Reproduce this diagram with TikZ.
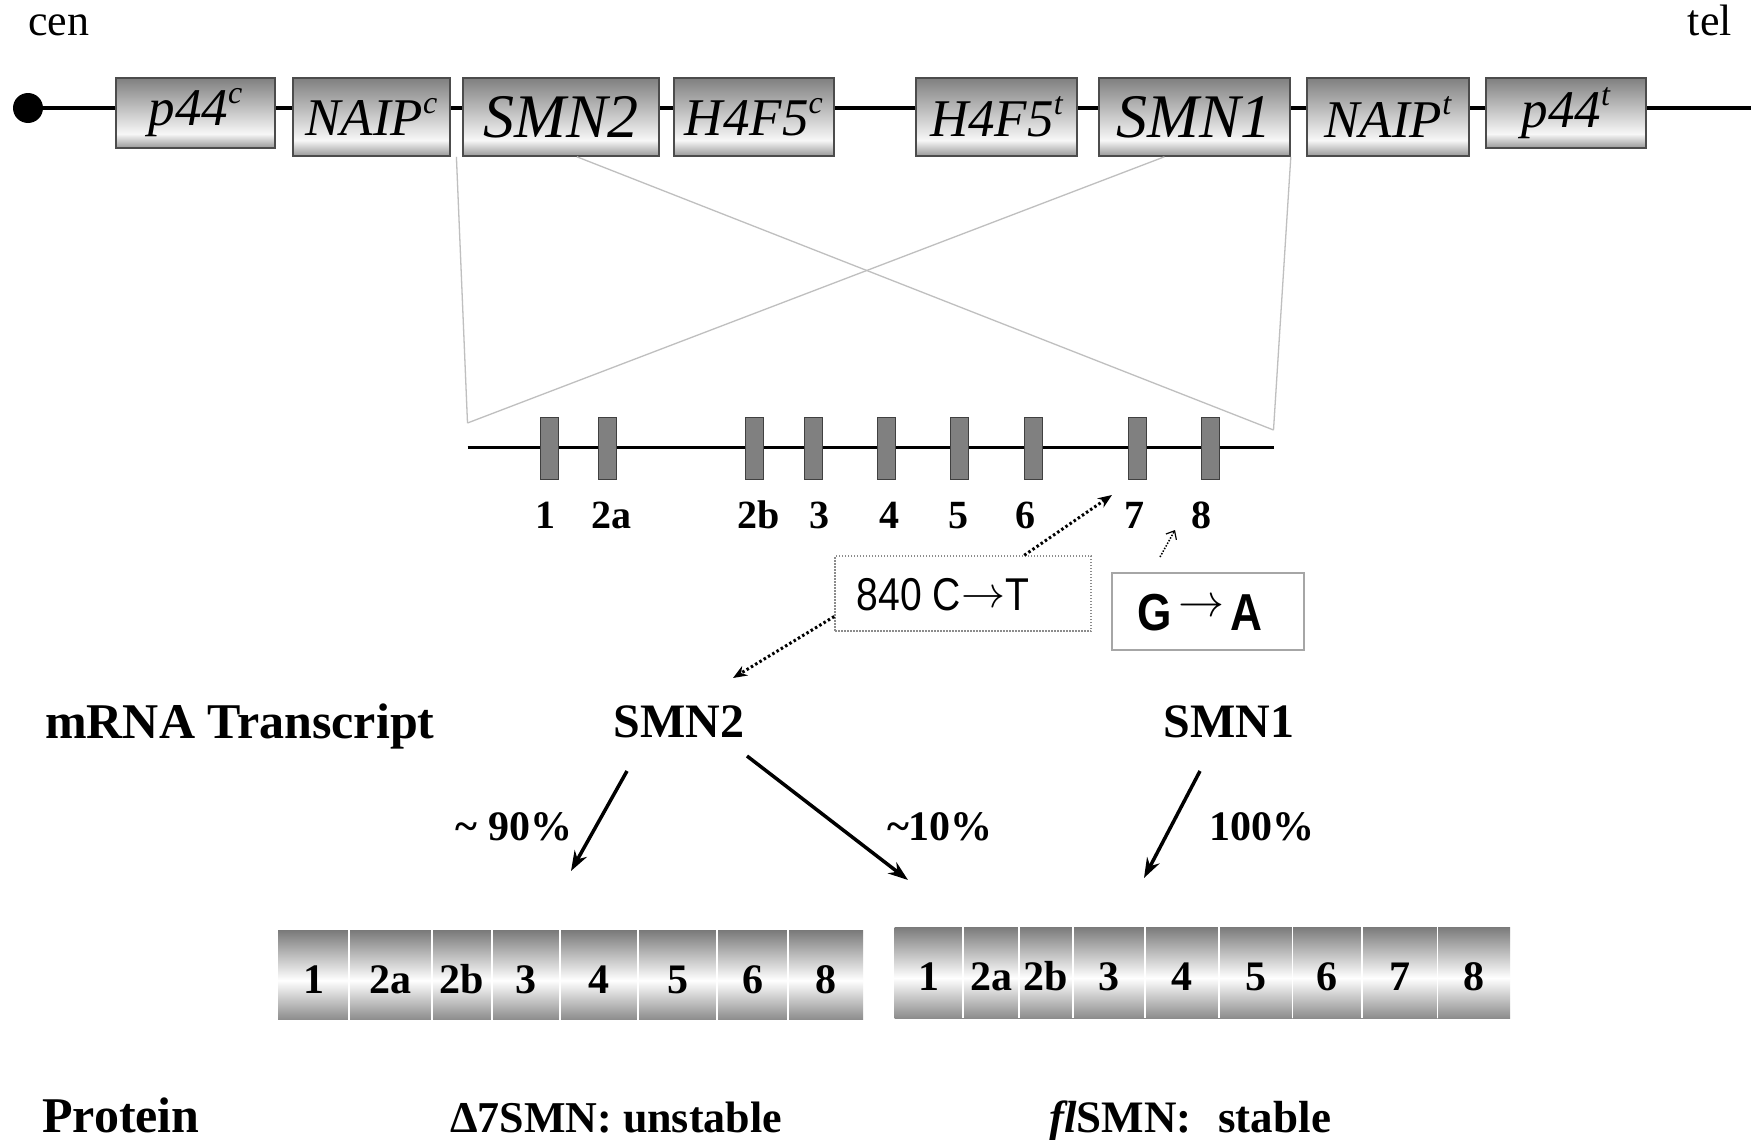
\RequirePackage{fix-cm}
\documentclass[tikz,border=0pt]{standalone}
\usepackage{fontspec}
\setmainfont{Liberation Serif}
\newfontfamily\sansf{Liberation Sans}
\newfontfamily\sansnarrow[FakeStretch=0.85]{Liberation Sans}
\usetikzlibrary{arrows.meta,calc}
\newcommand\fsz[1]{\fontsize{#1}{#1}\selectfont}
\newcommand\gsup[1]{\raisebox{0.42em}{\fsz{32}#1}}
\definecolor{gtopc}{gray}{0.5}
\definecolor{gmidc}{gray}{0.97}
\definecolor{gbotc}{gray}{0.6}
\definecolor{stopc}{gray}{0.48}
\definecolor{smidc}{gray}{1}
\definecolor{sbotc}{gray}{0.55}
\pgfdeclareverticalshading{geneshade}{100bp}{color(0bp)=(gbotc); color(25bp)=(gbotc); color(35bp)=(gmidc); color(75bp)=(gtopc); color(100bp)=(gtopc)}
\pgfdeclareverticalshading{segshade}{100bp}{color(0bp)=(sbotc); color(25bp)=(sbotc); color(47bp)=(smidc); color(75bp)=(stopc); color(100bp)=(stopc)}
\begin{document}
\begin{tikzpicture}[x=1pt,y=-1pt,
  genebox/.style={draw=black!70, line width=1.8pt, shading=geneshade, inner sep=0pt, anchor=north west, font=\itshape\fsz{53}},
  exon/.style={draw=black!75, fill=black!50, line width=1pt, minimum width=18pt, minimum height=62pt, inner sep=0pt},
  exlab/.style={anchor=base, inner sep=0pt, font=\bfseries\fsz{40}},
  seg/.style={shading=segshade, inner sep=0pt},
  seglab/.style={anchor=base, inner sep=0pt, font=\bfseries\fsz{42}},
  divider/.style={draw=white, line width=1.5pt},
  crossline/.style={draw=black!25, line width=1.3pt},
  bigarrow/.style={-{Stealth[length=20pt,width=14pt]}, line width=3.5pt},
  dotarrow/.style={dash pattern=on 2.5pt off 2.5pt, line width=3pt, -{Stealth[length=14pt,width=11pt]}},
  lbl/.style={inner sep=0pt},
]
\fill[white] (0,0) rectangle (1762,1140);
\useasboundingbox (0,0) rectangle (1762,1140);

% top labels
\node[lbl, anchor=base west, font=\fsz{44}] (cen) at (28,36) {cen};
\node[lbl, anchor=base east, font=\fsz{44}] (tel) at (1732,36) {tel};

% chromosome
\node[circle, fill=black, minimum size=30pt, inner sep=0pt] (dot) at (28,108) {};
\coordinate (tail) at (1751,108);
\draw[line width=4.5pt] (dot.center) -- (tail);

\node[genebox, minimum width=159pt, minimum height=70pt] (p44c) at (115,77) {p44\gsup{c}};
\node[genebox, minimum width=157pt, minimum height=78pt] (NAIPc) at (292,77) {NAIP\gsup{c}};
\node[genebox, minimum width=196pt, minimum height=78pt, font=\itshape\fsz{62}] (SMN2) at (462,77) {SMN2};
\node[genebox, minimum width=160pt, minimum height=78pt] (H4F5c) at (673,77) {H4F5\gsup{c}};
\node[genebox, minimum width=161pt, minimum height=78pt] (H4F5t) at (915,77) {H4F5\gsup{t}};
\node[genebox, minimum width=191pt, minimum height=78pt, font=\itshape\fsz{62}] (SMN1) at (1098,77) {SMN1};
\node[genebox, minimum width=162pt, minimum height=78pt] (NAIPt) at (1306,77) {NAIP\gsup{t}};
\node[genebox, minimum width=160pt, minimum height=70pt] (p44t) at (1485,77) {p44\gsup{t}};

% cross lines
\coordinate (ul) at (467.5,423);
\coordinate (ur) at (1273.5,430);
\draw[crossline] ($(NAIPc.south east)!0.5!(SMN2.south west)$) -- (ul);
\draw[crossline] ($(SMN2.south)+(16,0)$) -- (ur);
\draw[crossline] ($(SMN1.south)+(-30,0)$) -- (ul);
\draw[crossline] (SMN1.south east) -- (ur);

% gene structure
\coordinate (gl) at (467.5,447);
\coordinate (gr) at (1273.5,447);
\draw[line width=3pt] (gl) -- (gr);
\foreach \x/\n in {549.6/1,607.6/2,754/3,813.7/4,886.6/5,959.5/6,1033.6/7,1137.5/8,1210.4/9}{
  \node[exon] (x\n) at (\x,448) {};
}
\foreach \x/\t/\n in {545/1/1,611/2a/2,759/2b/3,819/3/4,889.5/4/5,958/5/6,1025.5/6/7,1134.6/7/8,1201.8/8/9}{
  \node[exlab] (xl\n) at (\x,528) {\t};
}

% mutation boxes
\node[draw=black!45, dash pattern=on 1.5pt off 1.5pt, line width=1.5pt, minimum width=256pt, minimum height=75pt, inner sep=0pt] (cbox) at (963,593.5) {};
\node[lbl, anchor=base, font=\sansnarrow\fsz{46}] (ctext) at (943,610) {840 C\raisebox{3pt}{\fsz{44}$\rightarrow$}T};
\node[draw=black!35, line width=2pt, minimum width=192pt, minimum height=77pt, inner sep=0pt] (gabox) at (1208,611.5) {};
\node[lbl, anchor=base, font=\sansnarrow\bfseries\fsz{52}] (gatext) at (1200,630) {G\kern6pt\raisebox{14pt}{\fsz{46}$\rightarrow$}\kern6pt A};

\coordinate (t7) at (1112,495);
\draw[dotarrow] ($(cbox.north west)+(190,0)$) -- (t7);
\coordinate (t2) at (733,678);
\draw[dotarrow] ($(cbox.west)+(0,23)$) -- (t2);
\coordinate (gs) at (1160,557);
\coordinate (gt) at (1175,530);
\draw[dash pattern=on 1.5pt off 1.5pt, line width=1.5pt, -{Straight Barb[length=7pt,width=12pt,line width=1.2pt]}] (gs) -- (gt);

% transcript labels
\node[lbl, anchor=base west, font=\bfseries\fsz{50}] (mrna) at (45,738) {mRNA Transcript};
\node[lbl, anchor=base, font=\bfseries\fsz{48}] (smn2lab) at (679,737) {SMN2};
\node[lbl, anchor=base, font=\bfseries\fsz{48}] (smn1lab) at (1229,737) {SMN1};

% splicing arrows
\coordinate (a90s) at (627,771);
\coordinate (a90e) at (571,871);
\coordinate (a10s) at (747,756);
\coordinate (a10e) at (908,880);
\coordinate (a100s) at (1200,771);
\coordinate (a100e) at (1144,878);
\draw[bigarrow] (a90s) -- (a90e);
\draw[bigarrow] (a10s) -- (a10e);
\draw[bigarrow] (a100s) -- (a100e);
\node[lbl, anchor=base, font=\bfseries\fsz{42}] (p90) at (514,840) {\textasciitilde\ 90\%};
\node[lbl, anchor=base, font=\bfseries\fsz{42}] (p10) at (940,840) {\textasciitilde 10\%};
\node[lbl, anchor=base, font=\bfseries\fsz{42}] (p100) at (1262,840) {100\%};

% transcripts
\foreach \a/\b/\t [count=\i] in {278/349/1,349/432/2a,432/492/2b,492/560/3,560/638/4,638/717/5,717/788/6,788/863/8}{
  \node[seg, minimum width={(\b-\a)*1pt}, minimum height=89pt] (L\i) at ({(\a+\b)/2},975) {};
  \node[seglab] (LL\i) at ({(\a+\b)/2},993) {\t};
}
\foreach \i in {1,...,7}{ \draw[divider] (L\i.north east) -- (L\i.south east); }
\foreach \a/\b/\t [count=\i] in {894.5/963/1,963/1019/2a,1019/1073/2b,1073/1145/3,1145/1219/4,1219/1292.5/5,1292.5/1362/6,1362/1437.5/7,1437.5/1510/8}{
  \node[seg, minimum width={(\b-\a)*1pt}, minimum height=91pt] (R\i) at ({(\a+\b)/2},972.5) {};
  \node[seglab] (RL\i) at ({(\a+\b)/2},990) {\t};
}
\foreach \i in {1,...,8}{ \draw[divider] (R\i.north east) -- (R\i.south east); }

% protein
\node[lbl, anchor=base west, font=\bfseries\fsz{50}] (prot) at (42,1132) {Protein};
\node[lbl, anchor=base, font=\bfseries\fsz{44}] (d7) at (616,1132) {Δ7SMN: unstable};
\node[lbl, anchor=base, font=\bfseries\fsz{45}] (fl) at (1190,1132) {{\itshape fl}SMN:\hspace{0.35em} stable};
\end{tikzpicture}
\end{document}
